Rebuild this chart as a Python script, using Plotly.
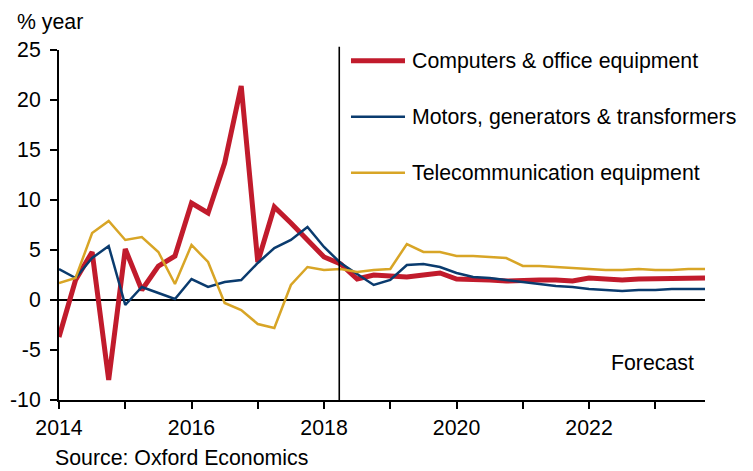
import plotly.graph_objects as go

# quarterly periods 2014Q1 .. 2023Q4 (as decimal years)
quarters = [2014 + 0.25 * i for i in range(40)]

computers = [-3.7, 2.0, 4.8, -8.0, 5.1, 1.0, 3.4, 4.4, 9.7, 8.7,
             13.7, 21.4, 3.8, 9.3, 7.7, 6.0, 4.3, 3.6, 2.1, 2.5,
             2.4, 2.3, 2.5, 2.7, 2.1, 2.1, 2.0, 1.9, 2.0, 2.0,
             2.0, 1.9, 2.2, 2.1, 2.0, 2.1, 2.1, 2.2, 2.2, 2.2]
motors = [3.1, 2.2, 4.2, 5.4, -0.5, 1.3, 0.7, 0.1, 2.1, 1.3,
          1.8, 2.0, 3.7, 5.2, 6.0, 7.3, 5.3, 3.7, 2.6, 1.5,
          2.0, 3.5, 3.6, 3.3, 2.7, 2.3, 2.2, 2.0, 1.8, 1.6,
          1.4, 1.3, 1.1, 1.0, 0.9, 1.0, 1.0, 1.1, 1.1, 1.1]
telecom = [1.7, 2.2, 6.7, 7.9, 6.0, 6.3, 4.8, 1.6, 5.5, 3.8,
           -0.3, -1.0, -2.4, -2.8, 1.5, 3.3, 3.0, 3.1, 2.8, 3.0,
           3.1, 5.6, 4.8, 4.8, 4.4, 4.4, 4.3, 4.2, 3.4, 3.4,
           3.3, 3.2, 3.1, 3.0, 3.0, 3.1, 3.0, 3.0, 3.1, 3.1]

series_names = ["Computers & office equipment",
                "Motors, generators & transformers",
                "Telecommunication equipment"]
series_values = [computers, motors, telecom]
colors = ["#C11B2C", "#0A3B6E", "#D8A526"]
widths = [5, 2.5, 2.5]

year_ticks = list(range(2014, 2024))
year_labels = [str(y) if y % 2 == 0 else "" for y in year_ticks]
y_ticks = [-10, -5, 0, 5, 10, 15, 20, 25]
y_labels = ["-10", "-5", "0", "5", "10", "15", "20", "25"]
forecast_start = 2018.23

FONT = "Liberation Sans, Arial, sans-serif"
FS = 21.3

fig = go.Figure()
for name, vals, col, w in zip(series_names, series_values, colors, widths):
    fig.add_trace(go.Scatter(x=quarters, y=vals, mode="lines", name=name,
                             line=dict(color=col, width=w), showlegend=False))

# forecast divider
fig.add_shape(type="line", xref="x", yref="paper", x0=forecast_start, x1=forecast_start,
              y0=0, y1=1.009, line=dict(color="black", width=1.6), layer="above")

# manual legend
leg_y = [0.969, 0.809, 0.649]
for name, col, w, yy in zip(series_names, colors, widths, leg_y):
    fig.add_shape(type="line", xref="paper", yref="paper", x0=0.452, x1=0.5356,
                  y0=yy, y1=yy, line=dict(color=col, width=w))
    fig.add_annotation(xref="paper", yref="paper", x=0.5433, y=yy, text=name,
                       showarrow=False, xanchor="left", yanchor="middle",
                       font=dict(size=FS, color="black", family=FONT))

fig.add_annotation(xref="paper", yref="paper", x=-0.0681, y=1.08, text="% year",
                   showarrow=False, xanchor="left", yanchor="middle",
                   font=dict(size=FS, color="black", family=FONT))
fig.add_annotation(xref="paper", yref="paper", x=0.986, y=0.1057, text="Forecast",
                   showarrow=False, xanchor="right", yanchor="middle",
                   font=dict(size=FS, color="black", family=FONT))
fig.add_annotation(xref="paper", yref="paper", x=-0.0093, y=-0.1657,
                   text="Source: Oxford Economics",
                   showarrow=False, xanchor="left", yanchor="middle",
                   font=dict(size=FS, color="black", family=FONT))

# page body has an 8px margin, so the figure is sized/offset to compensate
fig.update_layout(
    width=745, height=463,
    margin=dict(l=51, r=48, t=42, b=71, pad=0, autoexpand=False),
    paper_bgcolor="white", plot_bgcolor="white",
    font=dict(family=FONT, size=FS, color="black"),
    showlegend=False,
    xaxis=dict(range=[2014, 2023.75], tickmode="array", tickvals=year_ticks,
               ticktext=year_labels, ticks="outside", ticklen=7, tickwidth=2,
               tickcolor="black", showline=True, linecolor="black", linewidth=2,
               showgrid=False, zeroline=False, automargin=False,
               tickfont=dict(size=FS)),
    yaxis=dict(range=[-10, 25], tickmode="array", tickvals=y_ticks,
               ticktext=y_labels,
               ticks="outside", ticklen=7, tickwidth=2, tickcolor="black",
               showline=True, linecolor="black", linewidth=2, showgrid=False,
               zeroline=True, zerolinecolor="black", zerolinewidth=2,
               automargin=False, ticklabelstandoff=5, tickfont=dict(size=FS)),
)

fig.write_html("out.html")
